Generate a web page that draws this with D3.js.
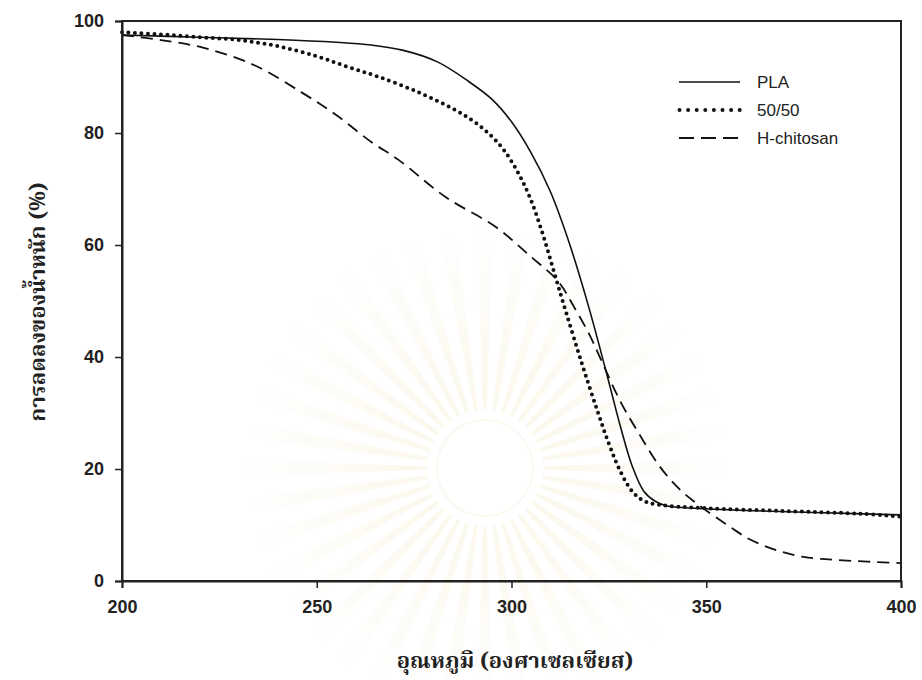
<!DOCTYPE html>
<html>
<head>
<meta charset="utf-8">
<script src="https://cdn.jsdelivr.net/npm/d3@7"></script>
<style>
  html, body { margin: 0; padding: 0; background: #fff; }
  svg { display: block; }
</style>
</head>
<body>
<div id="chart"></div>
<script>
// ---- Data ----
const plaT = [200, 220, 240, 255, 264, 272, 281, 289, 295, 300, 305, 310, 315, 320, 325, 328, 331, 334, 337, 340, 350, 360, 380, 400];
const plaV = [97.5, 97.1, 96.7, 96.2, 95.7, 94.8, 92.7, 89.2, 86, 82, 76.5, 69.5, 60, 48.5, 35.5, 27.5, 20.5, 16, 14.2, 13.4, 12.9, 12.6, 12.2, 11.8];

const blendT = [200, 210, 220, 230, 240, 250, 258, 266, 276, 285, 290, 294, 298, 302, 305, 308, 311, 314, 318, 322, 325, 328, 331, 334, 338, 350, 370, 390, 400];
const blendV = [98, 97.6, 97.1, 96.6, 95.5, 93.7, 91.8, 90, 87.3, 84.3, 82.2, 80, 77, 72.5, 68, 62, 55, 48, 39, 30.5, 24.5, 19.5, 16, 14.3, 13.6, 13, 12.5, 12, 11.5];

const chitT = [200, 210, 221, 234, 246, 255, 264, 271, 283, 296, 305, 312, 316, 320, 323, 328, 333, 338, 343, 348, 355, 361, 368, 375, 385, 400];
const chitV = [97.5, 96.6, 95.2, 92.1, 87.3, 83.2, 78.4, 75.2, 68.6, 63.2, 57.9, 53.5, 49, 44, 39.5, 32, 26, 20.5, 16.5, 13.6, 10.2, 7.5, 5.5, 4.3, 3.7, 3.2];

const seriesNames = ["PLA", "50/50", "H-chitosan"];
const xTicks = [200, 250, 300, 350, 400];
const yTicks = [0, 20, 40, 60, 80, 100];
const xTitle = "อุณหภูมิ (องศาเซลเซียส)";
const yTitle = "การลดลงของน้ำหนัก (%)";

// ---- Layout ----
const W = 922, H = 680;
const mLeft = 122, mRight = 901, mTop = 21, mBottom = 581;

const svg = d3.select("#chart").append("svg").attr("width", W).attr("height", H);

// faint watermark (decorative)
const defs = svg.append("defs");
const grad = defs.append("radialGradient").attr("id", "wmgrad")
  .attr("gradientUnits", "userSpaceOnUse").attr("cx", 0).attr("cy", 0).attr("r", 240);
grad.append("stop").attr("offset", "0%").attr("stop-color", "#f2e3b4");
grad.append("stop").attr("offset", "50%").attr("stop-color", "#f8efd4");
grad.append("stop").attr("offset", "100%").attr("stop-color", "#ffffff");
const wm = svg.append("g").attr("transform", "translate(485,468)").attr("opacity", 0.3);
for (let i = 0; i < 40; i++) {
  const a = i * 2 * Math.PI / 40;
  wm.append("path")
    .attr("d", d3.arc()({innerRadius: 58, outerRadius: 240, startAngle: a - 0.032, endAngle: a + 0.032}))
    .attr("fill", "url(#wmgrad)");
}
wm.append("circle").attr("r", 48).attr("fill", "none").attr("stroke", "#f3ead0").attr("stroke-width", 2);

const x = d3.scaleLinear().domain([200, 400]).range([mLeft, mRight]);
const y = d3.scaleLinear().domain([0, 100]).range([mBottom, mTop]);

const lineGen = d3.line().x(d => x(d[0])).y(d => y(d[1])).curve(d3.curveCatmullRom.alpha(0.5));

const styles = [
  { dash: null, width: 1.6, cap: "butt" },
  { dash: "0,6.5", width: 4, cap: "round" },
  { dash: "12,7", width: 1.8, cap: "butt" }
];
const data = [
  d3.zip(plaT, plaV),
  d3.zip(blendT, blendV),
  d3.zip(chitT, chitV)
];

const plot = svg.append("g");
data.forEach((d, i) => {
  const p = plot.append("path")
    .attr("d", lineGen(d))
    .attr("fill", "none")
    .attr("stroke", "#111")
    .attr("stroke-width", styles[i].width)
    .attr("stroke-linecap", styles[i].cap);
  if (styles[i].dash) p.attr("stroke-dasharray", styles[i].dash);
});

// Frame
svg.append("rect")
  .attr("x", mLeft).attr("y", mTop)
  .attr("width", mRight - mLeft).attr("height", mBottom - mTop)
  .attr("fill", "none").attr("stroke", "#222").attr("stroke-width", 2);

// Axes
const xAxis = svg.append("g").attr("transform", `translate(0,${mBottom})`)
  .call(d3.axisBottom(x).tickValues(xTicks).tickSize(7).tickPadding(12).tickFormat(d3.format("d")));
const yAxis = svg.append("g").attr("transform", `translate(${mLeft},0)`)
  .call(d3.axisLeft(y).tickValues(yTicks).tickSize(7).tickPadding(11).tickFormat(d3.format("d")));
[xAxis, yAxis].forEach(g => {
  g.select(".domain").attr("stroke", "#222").attr("stroke-width", 2);
  g.selectAll(".tick line").attr("stroke", "#222").attr("stroke-width", 1.5);
  g.selectAll(".tick text")
    .attr("fill", "#222")
    .style("font-family", "Arial, 'Liberation Sans', sans-serif")
    .style("font-size", "18px")
    .style("font-weight", "bold");
});

// Axis titles
svg.append("text")
  .attr("x", 515).attr("y", 668)
  .attr("text-anchor", "middle")
  .style("font-family", "'Noto Serif Thai', 'Noto Sans Thai', 'Loma', 'Garuda', serif")
  .style("font-size", "22px").style("font-weight", "bold")
  .attr("fill", "#222")
  .text(xTitle);
svg.append("text")
  .attr("transform", "translate(45,302) rotate(-90)")
  .attr("text-anchor", "middle")
  .style("font-family", "'Noto Serif Thai', 'Noto Sans Thai', 'Loma', 'Garuda', serif")
  .style("font-size", "22px").style("font-weight", "bold")
  .attr("fill", "#222")
  .text(yTitle);

// Legend
const legend = svg.append("g");
seriesNames.forEach((name, i) => {
  const yy = 82 + i * 28;
  const l = legend.append("line")
    .attr("x1", 679).attr("x2", 740).attr("y1", yy).attr("y2", yy)
    .attr("stroke", "#111")
    .attr("stroke-width", styles[i].width)
    .attr("stroke-linecap", styles[i].cap);
  if (i === 1) l.attr("stroke-dasharray", "0,8.6").attr("x1", 679.5);
  if (i === 2) l.attr("stroke-dasharray", "15,7");
  legend.append("text")
    .attr("x", 757).attr("y", yy + 6)
    .style("font-family", "Arial, 'Liberation Sans', sans-serif")
    .style("font-size", "17px")
    .attr("fill", "#222")
    .text(name);
});
</script>
</body>
</html>
